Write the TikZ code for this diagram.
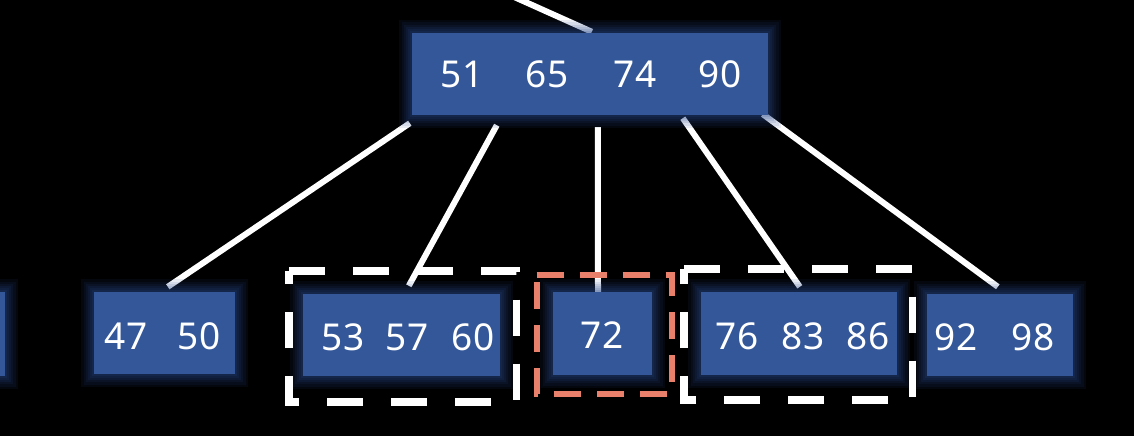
\documentclass[tikz,border=0pt]{standalone}
\usepackage{fontspec}
\setmainfont{Noto Sans}
\usetikzlibrary{calc}
\pgfdeclarelayer{bg}
\pgfsetlayers{bg,main}
\definecolor{boxblue}{RGB}{52,87,153}
\definecolor{glowblue}{RGB}{42,72,140}
\definecolor{salmon}{RGB}{232,128,108}
\tikzset{
  bnode/.style={fill=boxblue, draw=none, inner sep=0pt,
    preaction={draw=glowblue, line width=26pt, opacity=0.10, rounded corners=12pt},
    preaction={draw=glowblue, line width=21pt, opacity=0.10, rounded corners=10pt},
    preaction={draw=glowblue, line width=16pt, opacity=0.12, rounded corners=8pt},
    preaction={draw=glowblue, line width=12pt, opacity=0.12, rounded corners=6pt},
    preaction={draw=glowblue, line width=8pt, opacity=0.14, rounded corners=4pt},
    preaction={draw=glowblue, line width=4pt, opacity=0.16, rounded corners=2pt}},
  num/.style={text=white, font=\fontsize{37}{40}\selectfont, inner sep=0pt},
  link/.style={draw=white, line width=6pt},
  wdash/.style={draw=white, line width=7.5pt, dash pattern=on 36pt off 28pt},
  rdash/.style={draw=salmon, line width=6pt, dash pattern=on 27pt off 16pt},
}
\begin{document}
\begin{tikzpicture}[x=1pt,y=-1pt]
\begin{pgfonlayer}{bg}
\fill[black] (0,0) rectangle (1134,436);
\end{pgfonlayer}
\useasboundingbox (0,0) rectangle (1134,436);

% nodes
\node[bnode, minimum width=356pt, minimum height=82pt] (top) at (590,74) {};
\node[bnode, minimum width=140pt, minimum height=84pt] (b0) at (-65,334) {};
\node[bnode, minimum width=141pt, minimum height=82pt] (b1) at (164.5,333) {};
\node[bnode, minimum width=197pt, minimum height=82pt] (b2) at (401.5,335) {};
\node[bnode, minimum width=99pt, minimum height=83pt] (b3) at (602.5,333.5) {};
\node[bnode, minimum width=196pt, minimum height=83pt] (b4) at (799,333.5) {};
\node[bnode, minimum width=146pt, minimum height=82pt] (b5) at (1000,335) {};

% numbers
\node[num] (t51) at (462,74) {51};
\node[num] (t65) at (547,74) {65};
\node[num] (t74) at (635,74) {74};
\node[num] (t90) at (720,74) {90};
\node[num] (t47) at (126,336) {47};
\node[num] (t50) at (199,336) {50};
\node[num] (t53) at (343,337) {53};
\node[num] (t57) at (407,337) {57};
\node[num] (t60) at (473,337) {60};
\node[num] (t72) at (602,335) {72};
\node[num] (t76) at (737,336) {76};
\node[num] (t83) at (803,336) {83};
\node[num] (t86) at (868,336) {86};
\node[num] (t92) at (956,337) {92};
\node[num] (t98) at (1033,337) {98};

% connectors (behind the node glow)
\coordinate (in) at (512,-4);
\begin{pgfonlayer}{bg}
\draw[link] (in) -- ($(top.north west)+(180,-1)$);
\draw[link] ($(top.south west)+(-2,8)$) -- ($(b1.north west)+(74,-5)$);
\draw[link] ($(top.south west)+(85,10)$) -- ($(b2.north west)+(106,-8)$);
\draw[link] ($(top.south west)+(186,12)$) -- (b3.north -| 598,0);
\draw[link] ($(top.south west)+(271,3)$) -- ($(b4.north west)+(99,-5)$);
\draw[link] ($(top.south west)+(351,-1)$) -- ($(b5.north west)+(71,-7)$);
\end{pgfonlayer}

% dashed groupings (clockwise from the top-left corner)
\draw[wdash] (289,271) -- (516.5,271) -- (516.5,402) -- (289,402) -- cycle;
\draw[rdash] (536.5,275) -- (671.5,275) -- (671.5,393.5) -- (536.5,393.5) -- cycle;
\draw[wdash] (684,269) -- (912.5,269) -- (912.5,400) -- (684,400) -- cycle;
\end{tikzpicture}
\end{document}
